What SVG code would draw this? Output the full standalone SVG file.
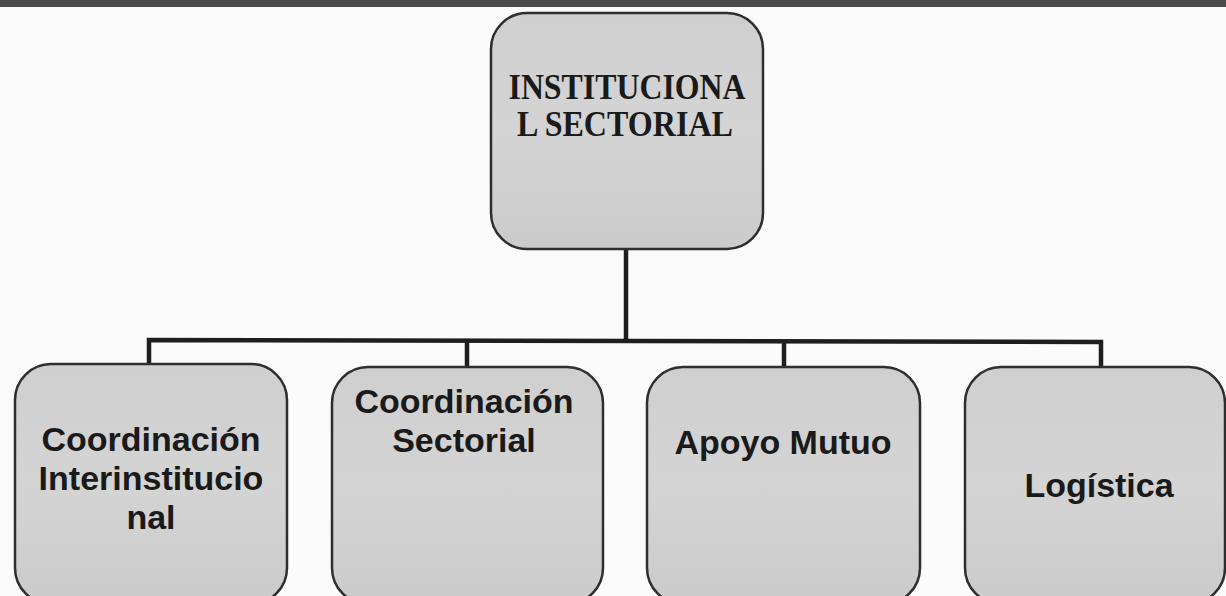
<svg xmlns="http://www.w3.org/2000/svg" width="1226" height="596" viewBox="0 0 1226 596">
  <defs>
    <linearGradient id="fill" x1="0" y1="0" x2="0" y2="1">
      <stop offset="0" stop-color="#cfcfcf"/>
      <stop offset="0.5" stop-color="#d4d4d4"/>
      <stop offset="1" stop-color="#cbcbcb"/>
    </linearGradient>
  </defs>
  <style>
    .box { fill: url(#fill); stroke: #2e2e2e; stroke-width: 2.5; }
    .conn { fill: none; stroke: #1e1e1e; stroke-width: 4.5; stroke-linecap: butt; stroke-linejoin: miter; }
    .serif { font-family: "Liberation Serif", "Times New Roman", serif; font-weight: bold; font-size: 36px; fill: #1a1a1a; text-anchor: middle; }
    .sans { font-family: "Liberation Sans", Arial, sans-serif; font-weight: bold; font-size: 34px; fill: #1a1a1a; text-anchor: middle; }
  </style>
  <rect x="0" y="0" width="1226" height="596" fill="#fbfbfb"/>
  <rect x="0" y="0" width="1226" height="7" fill="#4a4a4a"/>

  <g id="connectors">
    <path class="conn" d="M626 249 V342"/>
    <path class="conn" d="M149 364 V340 L1101 342 V367"/>
    <path class="conn" d="M467 341 V367"/>
    <path class="conn" d="M784 342 V367"/>
  </g>

  <g id="node-top">
    <rect class="box" x="491" y="13" width="272" height="236" rx="36" ry="36"/>
    <text class="serif" x="627" y="99" textLength="237" lengthAdjust="spacingAndGlyphs">INSTITUCIONA</text>
    <text class="serif" x="625" y="136" textLength="216" lengthAdjust="spacingAndGlyphs">L SECTORIAL</text>
  </g>

  <g id="node-interinstitucional">
    <rect class="box" x="15" y="364" width="272" height="240" rx="36" ry="36"/>
    <text class="sans" x="151" y="451">Coordinación</text>
    <text class="sans" x="151" y="490">Interinstitucio</text>
    <text class="sans" x="151" y="529">nal</text>
  </g>

  <g id="node-sectorial">
    <rect class="box" x="332" y="367" width="271" height="237" rx="36" ry="36"/>
    <text class="sans" x="464" y="413">Coordinación</text>
    <text class="sans" x="464" y="452">Sectorial</text>
  </g>

  <g id="node-apoyo">
    <rect class="box" x="647" y="367" width="273" height="237" rx="36" ry="36"/>
    <text class="sans" x="783" y="454">Apoyo Mutuo</text>
  </g>

  <g id="node-logistica">
    <rect class="box" x="965" y="367" width="260" height="237" rx="36" ry="36"/>
    <text class="sans" x="1099" y="497">Logística</text>
  </g>
</svg>
